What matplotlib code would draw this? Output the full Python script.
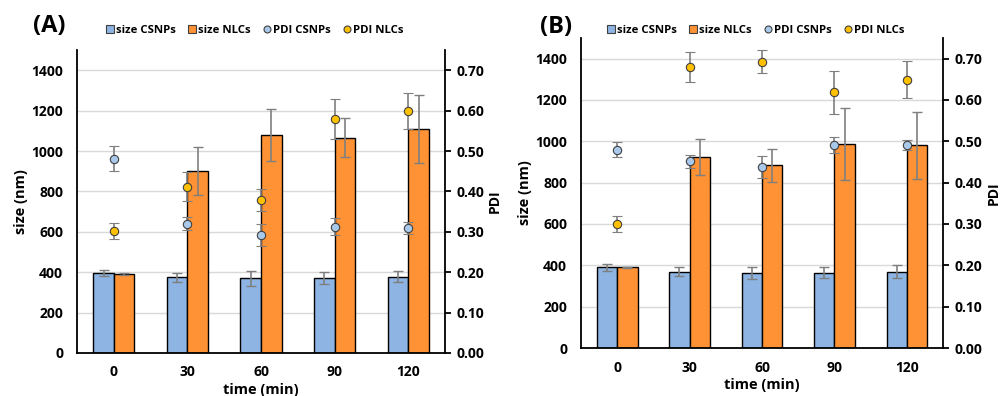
import numpy as np
import matplotlib
matplotlib.use("Agg")
import matplotlib.pyplot as plt
from matplotlib.lines import Line2D

plt.rcParams['font.family'] = ['Open Sans', 'DejaVu Sans']
plt.rcParams['font.weight'] = 'bold'

times = ['0', '30', '60', '90', '120']

# panel A
a_size_csnp = [397, 376, 370, 372, 378]
a_size_csnp_err = [15, 22, 38, 30, 27]
a_size_nlc = [390, 901, 1079, 1066, 1107]
a_size_nlc_err = [5, 120, 130, 97, 168]
a_pdi_csnp = [0.481, 0.320, 0.293, 0.313, 0.310]
a_pdi_csnp_err = [0.031, 0.016, 0.027, 0.022, 0.015]
a_pdi_nlc = [0.303, 0.412, 0.379, 0.580, 0.599]
a_pdi_nlc_err = [0.020, 0.036, 0.027, 0.050, 0.045]

# panel B
b_size_csnp = [390, 370, 364, 364, 370]
b_size_csnp_err = [17, 22, 29, 26, 32]
b_size_nlc = [390, 923, 885, 988, 980]
b_size_nlc_err = [4, 86, 80, 174, 163]
b_pdi_csnp = [0.480, 0.452, 0.438, 0.491, 0.491]
b_pdi_csnp_err = [0.018, 0.016, 0.026, 0.020, 0.013]
b_pdi_nlc = [0.300, 0.679, 0.693, 0.619, 0.649]
b_pdi_nlc_err = [0.020, 0.036, 0.027, 0.052, 0.045]

c_blue = '#8DB4E2'
c_orange = '#FF9234'
c_pdi_blue = '#A9C8EA'
c_pdi_yel = '#FFC000'
c_err = '#7F7F7F'


def draw_panel(ax, sc, sce, sn, sne, pc, pce, pn, pne, ylab_x, pdi_x, xlab_y, leg_y):
    x = np.arange(len(times)) + 0.5
    w = 0.28
    ax.set_axisbelow(True)
    ax.yaxis.grid(True, color='#D9D9D9', lw=1)
    ax.bar(x - w/2, sc, w, color=c_blue, edgecolor='black', lw=1, zorder=2)
    ax.bar(x + w/2, sn, w, color=c_orange, edgecolor='black', lw=1, zorder=2)
    ax.errorbar(x - w/2, sc, yerr=sce, fmt='none', ecolor=c_err, elinewidth=1.2, capsize=3.5, zorder=3)
    ax.errorbar(x + w/2, sn, yerr=sne, fmt='none', ecolor=c_err, elinewidth=1.2, capsize=3.5, zorder=3)
    ax.set_xlim(0, len(times))
    ax.set_ylim(0, 1500)
    ax.set_yticks(np.arange(0, 1401, 200))
    ax.set_xticks(x)
    ax.set_xticklabels(times)
    ax.tick_params(axis='both', length=0, labelsize=10, pad=10)
    ax.tick_params(axis='x', pad=9)
    for s in ['top', 'right']:
        ax.spines[s].set_visible(False)
    for s in ['left', 'bottom']:
        ax.spines[s].set_linewidth(1.3)
    ax.set_ylabel('size (nm)', fontsize=10.5, fontweight='bold')
    ax.yaxis.set_label_coords(ylab_x, 0.5)
    ax.set_xlabel('time (min)', fontsize=10.5, fontweight='bold')
    ax.xaxis.set_label_coords(0.5, xlab_y)

    ax2 = ax.twinx()
    ax2.set_ylim(0, 0.75)
    ax2.set_yticks(np.arange(0, 0.71, 0.1))
    ax2.set_yticklabels([f'{v:.2f}' for v in np.arange(0, 0.71, 0.1)])
    ax2.tick_params(axis='y', length=4, width=1.3, labelsize=10, pad=4)
    for s in ['top', 'left', 'bottom']:
        ax2.spines[s].set_visible(False)
    ax2.spines['right'].set_linewidth(1.3)
    ax2.errorbar(x, pc, yerr=pce, fmt='o', color=c_pdi_blue, mec='#404040', mew=0.8, ms=6,
                 ecolor=c_err, elinewidth=1.2, capsize=3.5, zorder=4)
    ax2.errorbar(x, pn, yerr=pne, fmt='o', color=c_pdi_yel, mec='#404040', mew=0.8, ms=6,
                 ecolor=c_err, elinewidth=1.2, capsize=3.5, zorder=4)
    ax2.set_ylabel('PDI', fontsize=10, fontweight='bold', rotation=90)
    ax2.yaxis.set_label_coords(pdi_x, 0.5)

    handles = [
        Line2D([], [], ls='none', marker='s', ms=6, mfc=c_blue, mec='#404040', mew=0.8),
        Line2D([], [], ls='none', marker='s', ms=6, mfc=c_orange, mec='#404040', mew=0.8),
        Line2D([], [], ls='none', marker='o', ms=5, mfc=c_pdi_blue, mec='#404040', mew=0.8),
        Line2D([], [], ls='none', marker='o', ms=5, mfc=c_pdi_yel, mec='#404040', mew=0.8),
    ]
    ax.legend(handles, ['size CSNPs', 'size NLCs', 'PDI CSNPs', 'PDI NLCs'],
              loc='center', bbox_to_anchor=(0.48, leg_y), ncol=4, frameon=False,
              handletextpad=0.05, columnspacing=0.9, handlelength=1.0,
              borderaxespad=0.0, prop={'weight': 'bold', 'size': 8.2})
    return ax2


fig = plt.figure(figsize=(10.03, 3.96), dpi=100)
axA = fig.add_axes([0.0768, 0.1086, 0.3669, 0.765])
axB = fig.add_axes([0.5793, 0.1212, 0.3609, 0.783])

draw_panel(axA, a_size_csnp, a_size_csnp_err, a_size_nlc, a_size_nlc_err,
           a_pdi_csnp, a_pdi_csnp_err, a_pdi_nlc, a_pdi_nlc_err,
           -0.133, 1.117, -0.1, 1.063)
draw_panel(axB, b_size_csnp, b_size_csnp_err, b_size_nlc, b_size_nlc_err,
           b_pdi_csnp, b_pdi_csnp_err, b_pdi_nlc, b_pdi_nlc_err,
           -0.135, 1.12, -0.097, 1.023)

fig.text(0.033, 0.934, '(A)', fontsize=17, fontweight='bold', va='center')
fig.text(0.538, 0.932, '(B)', fontsize=17, fontweight='bold', va='center')

fig.savefig('out.png', dpi=100)
